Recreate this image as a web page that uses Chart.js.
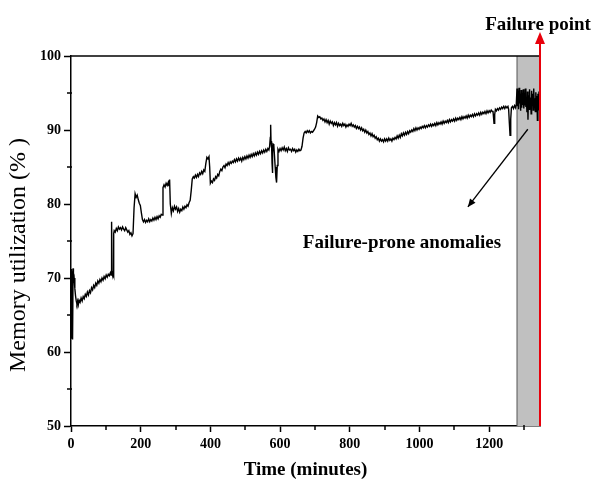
<!DOCTYPE html>
<html>
<head>
<meta charset="utf-8">
<script src="https://cdn.jsdelivr.net/npm/chart.js@4.4.0/dist/chart.umd.min.js"></script>
<style>
  body { margin: 0; background: #fff; }
  #wrap { width: 592px; height: 481px; }
</style>
</head>
<body>
<div id="wrap"><canvas id="memory-chart" width="592" height="481"></canvas></div>
<script>
// Memory utilization trace
var minutes = [
  0, 1, 2, 3, 4, 5, 6, 7, 9, 11,
  13, 15, 17, 19, 21, 23, 26, 29, 32, 35,
  38, 41, 44, 47, 50, 53, 56, 59, 62, 65,
  68, 71, 74, 77, 80, 83, 86, 89, 92, 95,
  98, 101, 104, 107, 110, 113, 115, 116, 117, 118,
  120, 121, 122, 123, 124, 127, 130, 133, 136, 139,
  142, 145, 148, 151, 154, 157, 160, 163, 166, 169,
  172, 175, 178, 181, 184, 187, 190, 193, 196, 199,
  202, 205, 208, 211, 214, 217, 220, 223, 226, 229,
  232, 235, 238, 241, 244, 247, 250, 253, 256, 259,
  262, 264, 267, 270, 273, 276, 279, 281, 283, 285,
  288, 291, 294, 297, 300, 303, 306, 309, 312, 315,
  318, 321, 324, 327, 330, 333, 336, 339, 342, 345,
  348, 351, 354, 357, 360, 363, 366, 369, 372, 375,
  378, 381, 384, 387, 390, 393, 396, 398, 400, 403,
  406, 409, 412, 415, 418, 421, 424, 427, 430, 433,
  436, 439, 442, 445, 448, 451, 454, 457, 460, 463,
  466, 469, 472, 475, 478, 481, 484, 487, 490, 493,
  496, 499, 502, 505, 508, 511, 514, 517, 520, 523,
  526, 529, 532, 535, 538, 541, 544, 547, 550, 553,
  556, 559, 562, 565, 568,
  570, 572, 573, 574, 575, 576, 577, 578, 579, 580,
  582, 584, 586, 588, 590, 592, 594, 597, 600, 603,
  606, 609, 612, 615, 618, 621, 624, 627, 630, 633,
  636, 639, 642, 645, 648, 651, 654, 657, 660, 663,
  666, 669, 672, 675, 678, 681, 684, 687, 690, 693,
  696, 699, 702, 705, 708, 711, 714, 717, 720, 723,
  726, 729, 732, 735, 738, 741, 744, 747, 750, 753,
  756, 759, 762, 765, 768, 771, 774, 777, 780, 783,
  786, 789, 792, 795, 798, 801, 804, 807, 810, 813,
  816, 819, 822, 825, 828, 831, 834, 837, 840, 843,
  846, 849, 852, 855, 858, 861, 864, 867, 870, 873,
  876, 879, 882, 885, 888, 891, 894, 897, 900, 903,
  906, 909, 912, 915, 918, 921, 924, 927, 930, 933,
  936, 939, 942, 945, 948, 951, 954, 957, 960, 963,
  966, 969, 972, 975, 978, 981, 984, 987, 990, 993,
  996, 999,
  1002, 1005, 1008, 1011, 1014, 1017, 1020, 1023, 1026, 1029,
  1032, 1035, 1038, 1041, 1044, 1047, 1050, 1053, 1056, 1059,
  1062, 1065, 1068, 1071, 1074, 1077, 1080, 1083, 1086, 1089,
  1092, 1095, 1098, 1101, 1104, 1107, 1110, 1113, 1116, 1119,
  1122, 1125, 1128, 1131, 1134, 1137, 1140, 1143, 1146, 1149,
  1152, 1155, 1158, 1161, 1164, 1167, 1170, 1173, 1176, 1179,
  1182, 1185, 1188, 1191, 1194, 1197, 1200, 1203, 1206, 1209,
  1211, 1213, 1214, 1216, 1218, 1221, 1224, 1227, 1230, 1233,
  1236, 1239, 1242, 1245, 1248, 1251, 1254, 1256, 1258, 1260,
  1262, 1264, 1267, 1270, 1273, 1276,
  1278, 1280, 1281.5, 1283, 1284.5, 1286, 1287.5, 1289, 1290.5, 1292,
  1293.5, 1295, 1296.5, 1298, 1299.5, 1301, 1302.5, 1304, 1305.5, 1307,
  1308.5, 1310, 1311.5, 1313, 1314.5, 1316, 1317.5, 1319, 1320.5, 1322,
  1323.5, 1325, 1326.5, 1328, 1329.5, 1331, 1332.5, 1334, 1335.5, 1337,
  1338.5, 1340, 1341.5, 1343, 1344.5, 1346
];

var memoryUsage = [
  66.0, 61.8, 71.2, 63.5, 70.9, 61.7, 71.3, 69.6, 70.0, 68.6,
  67.6, 66.9, 66.5, 66.9, 66.4, 67.0, 66.7, 67.3, 66.9, 67.5,
  67.2, 67.8, 67.5, 68.1, 67.7, 68.3, 68.0, 68.7, 68.4, 69.0,
  68.7, 69.3, 69.0, 69.6, 69.3, 69.8, 69.5, 70.0, 69.7, 70.2,
  69.9, 70.4, 70.1, 70.5, 70.3, 70.7, 70.4, 70.6, 77.6, 70.8,
  70.5, 70.7, 70.4, 76.0, 76.4, 76.2, 76.7, 76.4, 76.9, 76.6,
  76.8, 76.5, 76.9, 76.6, 76.4, 76.8, 76.5, 76.2, 76.4, 75.9,
  76.1, 75.7, 76.0, 79.5, 81.4, 80.9, 81.2, 80.6, 80.1, 79.8,
  78.8, 77.9, 77.6, 77.9, 77.5, 77.8, 77.6, 78.0, 77.6, 77.9,
  77.7, 78.1, 77.8, 78.2, 77.9, 78.3, 78.0, 78.4, 78.2, 78.6,
  78.5, 82.2, 82.6, 82.3, 82.8, 82.5, 82.9, 82.4, 83.3, 80.0,
  78.7, 79.5, 79.1, 79.7, 79.3, 79.6, 79.0, 79.4, 78.9, 79.3,
  79.1, 79.6, 79.3, 79.7, 79.5, 79.9, 79.7, 80.2, 80.5, 81.8,
  83.4, 83.7, 83.5, 83.9, 83.6, 84.0, 83.7, 84.2, 84.0, 84.4,
  84.1, 84.6, 84.4, 85.5, 86.3, 86.1, 86.4, 85.0, 82.8, 83.1,
  82.9, 83.4, 83.2, 83.7, 83.5, 84.0, 83.8, 84.4, 84.7, 84.5,
  85.0, 85.2, 84.9, 85.4, 85.2, 85.6, 85.3, 85.7, 85.5, 85.8,
  85.6, 86.0, 85.7, 86.1, 85.8, 86.2, 85.9, 86.2, 85.8, 86.3,
  86.0, 86.4, 86.1, 86.5, 86.2, 86.6, 86.3, 86.7, 86.4, 86.8,
  86.5, 86.9, 86.6, 87.0, 86.7, 87.1, 86.8, 87.2, 86.9, 87.3,
  87.0, 87.4, 87.1, 87.5, 87.3,
  87.8, 89.0, 90.7, 88.5, 87.6, 88.3, 85.5, 84.2, 86.8, 88.1,
  88.0, 86.5, 85.0, 83.6, 82.9, 85.2, 87.4, 87.1, 87.5, 87.2,
  87.6, 87.3, 87.7, 87.2, 87.5, 87.1, 87.6, 87.3, 87.4, 87.1,
  87.5, 87.2, 87.4, 87.0, 87.3, 87.1, 87.4, 87.2, 87.3, 87.8,
  88.9, 89.6, 89.8, 89.6, 89.9, 89.7, 89.9, 89.6, 89.8, 89.7,
  89.9, 90.1, 90.4, 91.0, 91.9, 91.7, 91.8, 91.5, 91.6, 91.3,
  91.5, 91.1, 91.4, 91.0, 91.3, 90.8, 91.2, 90.9, 91.1, 90.6,
  91.0, 90.7, 91.0, 90.5, 90.9, 90.6, 90.8, 90.5, 90.9, 90.6,
  90.8, 90.4, 90.7, 90.5, 90.8, 90.6, 90.9, 90.5, 90.7, 90.4,
  90.6, 90.2, 90.5, 90.2, 90.4, 90.0, 90.3, 89.9, 90.1, 89.7,
  90.0, 89.6, 89.8, 89.4, 89.6, 89.2, 89.5, 89.1, 89.3, 88.9,
  89.1, 88.7, 88.9, 88.5, 88.8, 88.5, 88.7, 88.4, 88.8, 88.5,
  88.8, 88.5, 88.9, 88.6, 88.8, 88.5, 88.9, 88.7, 89.0, 88.8,
  89.2, 88.9, 89.3, 89.0, 89.5, 89.2, 89.6, 89.3, 89.7, 89.4,
  89.8, 89.5, 89.9, 89.7, 90.0, 89.8, 90.2, 89.9, 90.3, 90.0,
  90.3, 90.1,
  90.4, 90.2, 90.5, 90.3, 90.6, 90.3, 90.6, 90.4, 90.7, 90.5,
  90.8, 90.5, 90.8, 90.6, 90.9, 90.6, 91.0, 90.7, 91.0, 90.8,
  91.1, 90.8, 91.2, 90.9, 91.2, 91.0, 91.3, 91.0, 91.4, 91.1,
  91.4, 91.2, 91.5, 91.2, 91.6, 91.3, 91.6, 91.4, 91.7, 91.4,
  91.8, 91.5, 91.8, 91.6, 91.9, 91.6, 92.0, 91.7, 92.0, 91.8,
  92.1, 91.8, 92.2, 91.9, 92.2, 92.0, 92.3, 92.0, 92.4, 92.1,
  92.4, 92.2, 92.5, 92.2, 92.6, 92.3, 92.6, 92.4, 92.7, 92.5,
  92.6, 91.5, 90.9, 92.1, 92.8, 92.6, 92.9, 92.7, 93.0, 92.8,
  93.1, 92.9, 93.2, 92.9, 93.2, 93.0, 93.2, 92.8, 91.0, 89.3,
  91.5, 93.0, 93.2, 92.9, 93.3, 93.0,
  93.5, 95.6, 93.2, 95.3, 92.8, 95.7, 93.6, 94.9, 92.6, 95.4,
  93.0, 94.6, 93.4, 95.5, 92.9, 94.8, 93.3, 95.6, 93.1, 94.2,
  92.4, 95.2, 91.4, 94.7, 92.8, 95.5, 93.0, 94.4, 92.2, 95.3,
  93.5, 94.9, 92.7, 95.6, 93.2, 94.3, 92.5, 95.1, 93.7, 94.6,
  91.3, 94.9, 92.8, 95.2, 92.6, 94.0
];

var xMajorTicks = [0, 200, 400, 600, 800, 1000, 1200];
var xMinorTicks = [100, 300, 500, 700, 900, 1100, 1300];
var yMajorTicks = [50, 60, 70, 80, 90, 100];
var yMinorTicks = [55, 65, 75, 85, 95];

var anomalyStart = 1280;   // grey band
var failureTime = 1346;    // red failure line
var arrowFrom = {x: 1311, y: 90.1};
var arrowTo = {x: 1139, y: 79.6};

var serif = "'Liberation Serif', 'Times New Roman', serif";

var points = minutes.map(function (t, i) { return {x: t, y: memoryUsage[i]}; });

function arrowHead(ctx, fx, fy, tx, ty, len, half) {
  var a = Math.atan2(ty - fy, tx - fx);
  ctx.beginPath();
  ctx.moveTo(tx, ty);
  ctx.lineTo(tx - len * Math.cos(a) + half * Math.sin(a), ty - len * Math.sin(a) - half * Math.cos(a));
  ctx.lineTo(tx - len * Math.cos(a) - half * Math.sin(a), ty - len * Math.sin(a) + half * Math.cos(a));
  ctx.closePath();
  ctx.fill();
}

var failureMarks = {
  id: 'failureMarks',
  beforeDatasetsDraw: function (chart) {
    var ctx = chart.ctx, area = chart.chartArea, xs = chart.scales.x;
    var x0 = xs.getPixelForValue(anomalyStart), x1 = xs.getPixelForValue(failureTime);
    ctx.save();
    ctx.fillStyle = '#c0c0c0';
    ctx.fillRect(x0, area.top, x1 - x0, area.bottom - area.top);
    ctx.strokeStyle = '#555';
    ctx.lineWidth = 1;
    ctx.beginPath();
    ctx.moveTo(x0, area.top);
    ctx.lineTo(x0, area.bottom);
    ctx.stroke();
    ctx.restore();
  },
  afterDraw: function (chart) {
    var ctx = chart.ctx, area = chart.chartArea;
    var xs = chart.scales.x, ys = chart.scales.y;
    ctx.save();

    // minor ticks
    ctx.strokeStyle = '#000';
    ctx.lineWidth = 1.5;
    xMinorTicks.forEach(function (v) {
      var px = Math.round(xs.getPixelForValue(v));
      ctx.beginPath();
      ctx.moveTo(px, area.bottom - 1);
      ctx.lineTo(px, area.bottom + 4);
      ctx.stroke();
    });
    yMinorTicks.forEach(function (v) {
      var py = Math.round(ys.getPixelForValue(v));
      ctx.beginPath();
      ctx.moveTo(area.left + 1, py);
      ctx.lineTo(area.left - 4, py);
      ctx.stroke();
    });

    // top frame
    ctx.lineWidth = 1.5;
    ctx.beginPath();
    ctx.moveTo(area.left, area.top);
    ctx.lineTo(xs.getPixelForValue(failureTime), area.top);
    ctx.stroke();

    // failure line with arrow
    var fx = xs.getPixelForValue(failureTime);
    ctx.strokeStyle = '#e8000b';
    ctx.fillStyle = '#e8000b';
    ctx.lineWidth = 2;
    ctx.beginPath();
    ctx.moveTo(fx, area.bottom);
    ctx.lineTo(fx, 42);
    ctx.stroke();
    ctx.beginPath();
    ctx.moveTo(fx - 5, 44);
    ctx.lineTo(fx + 5, 44);
    ctx.lineTo(fx, 32);
    ctx.closePath();
    ctx.fill();

    // anomaly arrow
    var ax0 = xs.getPixelForValue(arrowFrom.x), ay0 = ys.getPixelForValue(arrowFrom.y);
    var ax1 = xs.getPixelForValue(arrowTo.x), ay1 = ys.getPixelForValue(arrowTo.y);
    ctx.strokeStyle = '#000';
    ctx.fillStyle = '#000';
    ctx.lineWidth = 1.3;
    ctx.beginPath();
    ctx.moveTo(ax0, ay0);
    ctx.lineTo(ax1, ay1);
    ctx.stroke();
    arrowHead(ctx, ax0, ay0, ax1, ay1, 8, 3.5);

    // labels
    ctx.fillStyle = '#000';
    ctx.textAlign = 'center';
    ctx.textBaseline = 'middle';
    ctx.font = 'bold 19px ' + serif;
    ctx.fillText('Failure point', 538, 25);
    ctx.fillText('Failure-prone anomalies', 402, 243);

    // y-axis title (sits a bit below the axis centre in the original)
    ctx.translate(19, 255);
    ctx.rotate(-Math.PI / 2);
    ctx.font = '24px ' + serif;
    ctx.fillText('Memory utilization (% )', 0, 0);
    ctx.restore();
  }
};

var ctx = document.getElementById('memory-chart').getContext('2d');
var chart = new Chart(ctx, {
  type: 'line',
  data: {
    datasets: [{
      label: 'Memory utilization',
      data: points,
      borderColor: '#000',
      borderWidth: 1.4,
      pointRadius: 0,
      tension: 0,
      fill: false
    }]
  },
  options: {
    responsive: false,
    animation: false,
    layout: { padding: { top: 56, right: 52, left: 0, bottom: 0 } },
    plugins: {
      legend: { display: false },
      tooltip: { enabled: false }
    },
    scales: {
      x: {
        type: 'linear',
        min: 0,
        max: failureTime,
        afterBuildTicks: function (s) { s.ticks = xMajorTicks.map(function (v) { return {value: v}; }); },
        afterFit: function (s) { s.height = 55; },
        border: { display: true, color: '#000', width: 1.5 },
        grid: { drawOnChartArea: false, drawTicks: true, tickLength: 6, tickWidth: 1.5, tickColor: '#000' },
        ticks: {
          color: '#000',
          padding: 4,
          maxRotation: 0,
          callback: function (v) { return String(v); },
          font: { family: serif, size: 14, weight: 'bold' }
        },
        title: {
          display: true,
          text: 'Time (minutes)',
          color: '#000',
          padding: { top: 0, bottom: 0 },
          font: { family: serif, size: 19, weight: 'bold', lineHeight: 1.2 }
        }
      },
      y: {
        min: 50,
        max: 100,
        afterBuildTicks: function (s) { s.ticks = yMajorTicks.map(function (v) { return {value: v}; }); },
        afterFit: function (s) { s.width = 71; },
        border: { display: true, color: '#000', width: 1.5 },
        grid: { drawOnChartArea: false, drawTicks: true, tickLength: 7, tickWidth: 1.5, tickColor: '#000' },
        ticks: {
          color: '#000',
          padding: 3,
          callback: function (v) { return String(v); },
          font: { family: serif, size: 14, weight: 'bold' }
        },
        title: { display: false }
      }
    }
  },
  plugins: [failureMarks]
});
</script>
</body>
</html>
